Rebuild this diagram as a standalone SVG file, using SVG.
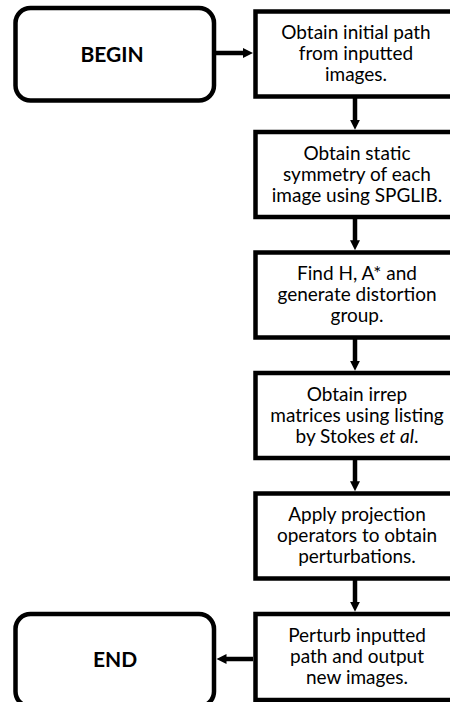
<svg xmlns="http://www.w3.org/2000/svg" width="450" height="702" viewBox="0 0 450 702">
<style>
.box{fill:#fff;stroke:#000;stroke-width:4.5}
.term{fill:#fff;stroke:#000;stroke-width:4.5}
.t{font-family:Lato,"Noto Sans","Liberation Sans",sans-serif;font-size:19px;fill:#000;text-anchor:middle}
.tb{font-family:Lato,"Noto Sans","Liberation Sans",sans-serif;font-size:21px;font-weight:bold;fill:#000;text-anchor:middle}
.c{fill:none;stroke:#000;stroke-width:4.5}
</style>
<defs>
<marker id="ah" markerUnits="userSpaceOnUse" markerWidth="12" markerHeight="12" refX="2" refY="5" orient="auto">
<path d="M0,0 L10,5 L0,10 z" fill="#000"/>
</marker>
</defs>
<rect width="450" height="702" fill="#fff"/>
<g id="connectors">
<path class="c" d="M216,53 H245" marker-end="url(#ah)"/>
<path class="c" d="M355,96.5 V121.8" marker-end="url(#ah)"/>
<path class="c" d="M355,217 V242.3" marker-end="url(#ah)"/>
<path class="c" d="M355,337.5 V362.8" marker-end="url(#ah)"/>
<path class="c" d="M355,458 V483.3" marker-end="url(#ah)"/>
<path class="c" d="M355,578.5 V603.8" marker-end="url(#ah)"/>
<path class="c" d="M253,659 H224.5" marker-end="url(#ah)"/>
</g>
<g id="begin">
<rect class="term" x="15.5" y="8" width="198.5" height="92.5" rx="15"/>
<text class="tb" x="112" y="61.5">BEGIN</text>
</g>
<g id="step1">
<rect class="box" x="255.5" y="11.5" width="210" height="85"/>
<text class="t" x="356" y="39">Obtain initial path</text>
<text class="t" x="356" y="60">from inputted</text>
<text class="t" x="356" y="81">images.</text>
</g>
<g id="step2">
<rect class="box" x="255.5" y="132" width="210" height="85"/>
<text class="t" x="357" y="159.5">Obtain static</text>
<text class="t" x="357" y="180.5">symmetry of each</text>
<text class="t" x="357" y="201.5">image using SPGLIB.</text>
</g>
<g id="step3">
<rect class="box" x="255.5" y="252.5" width="210" height="85"/>
<text class="t" x="357" y="280">Find H, A* and</text>
<text class="t" x="357" y="301">generate distortion</text>
<text class="t" x="357" y="322">group.</text>
</g>
<g id="step4">
<rect class="box" x="255.5" y="373" width="210" height="85"/>
<text class="t" x="357" y="400.5">Obtain irrep</text>
<text class="t" x="357" y="421.5">matrices using listing</text>
<text class="t" x="357" y="442.5">by Stokes <tspan font-style="italic">et al</tspan>.</text>
</g>
<g id="step5">
<rect class="box" x="255.5" y="493.5" width="210" height="85"/>
<text class="t" x="357" y="521">Apply projection</text>
<text class="t" x="357" y="542">operators to obtain</text>
<text class="t" x="357" y="563">perturbations.</text>
</g>
<g id="step6">
<rect class="box" x="255.5" y="614" width="210" height="86"/>
<text class="t" x="357" y="641.5">Perturb inputted</text>
<text class="t" x="357" y="662.5">path and output</text>
<text class="t" x="357" y="683.5">new images.</text>
</g>
<g id="end">
<rect class="term" x="15.5" y="614" width="198.5" height="92.5" rx="15"/>
<text class="tb" x="115" y="666.5">END</text>
</g>
</svg>
